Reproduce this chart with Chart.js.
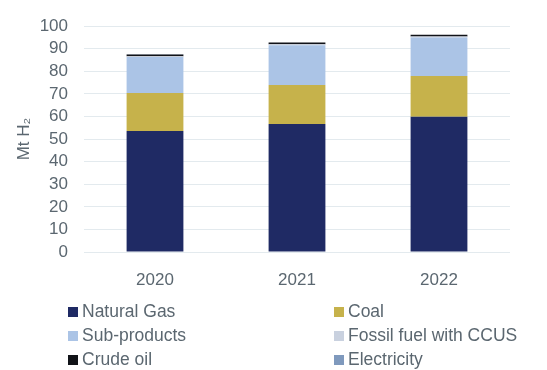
<!DOCTYPE html>
<html>
<head>
<meta charset="utf-8">
<script src="https://cdn.jsdelivr.net/npm/chart.js@4.4.1/dist/chart.umd.min.js"></script>
<style>
  body { margin: 0; background: #fff; }
  #wrap { position: relative; width: 547px; height: 370px; }
  #legend {
    position: absolute; left: 68px; top: 299px;
    display: grid; grid-template-columns: 266px 200px; row-gap: 0;
    font-family: "Liberation Sans", Arial, sans-serif; font-size: 17.5px; color: #5b6770;
  }
  #legend div { height: 24px; line-height: 24px; white-space: nowrap; }
  #legend span.box { display: inline-block; width: 10px; height: 10px; margin-right: 4px; vertical-align: 0px; }
</style>
</head>
<body>
<div id="wrap">
  <canvas id="chart" width="547" height="370"></canvas>
  <div id="legend"></div>
</div>
<script>
var years = ['2020', '2021', '2022'];
var naturalGas = [53.6, 56.7, 59.9];
var coal = [16.8, 17.3, 18.0];
var subProducts = [16.0, 17.6, 17.1];
var fossilCcus = [0.3, 0.4, 0.4];
var crudeOil = [0.8, 0.8, 0.8];
var electricity = [0.03, 0.03, 0.03];

var series = [
    { label: 'Natural Gas', data: naturalGas, color: '#1f2a64' },
    { label: 'Coal', data: coal, color: '#c6b24b' },
    { label: 'Sub-products', data: subProducts, color: '#abc4e6' },
    { label: 'Fossil fuel with CCUS', data: fossilCcus, color: '#c9d1df' },
    { label: 'Crude oil', data: crudeOil, color: '#111318' },
    { label: 'Electricity', data: electricity, color: '#7f99bd' }
];

var textColor = '#5b6770';
var font = { family: '"Liberation Sans", Arial, sans-serif', size: 17 };

var ctx = document.getElementById('chart');
var chart = new Chart(ctx, {
    type: 'bar',
    data: {
        labels: years,
        datasets: series.map(function (s) {
            return {
                label: s.label,
                data: s.data,
                backgroundColor: s.color,
                borderWidth: 0,
                categoryPercentage: 1,
                barPercentage: 0.4
            };
        })
    },
    options: {
        responsive: false,
        animation: false,
        layout: { padding: { left: 14, right: 37, top: 8, bottom: 70 } },
        plugins: {
            legend: { display: false },
            tooltip: { enabled: false }
        },
        scales: {
            x: {
                stacked: true,
                grid: { display: false },
                border: { display: false },
                ticks: { color: textColor, font: font, padding: 10 },
                afterFit: function (axis) { axis.height = 48; }
            },
            y: {
                stacked: true,
                min: 0,
                max: 100,
                grid: { color: '#e3eaee', drawTicks: false },
                border: { display: false },
                ticks: { stepSize: 10, autoSkip: false, color: textColor, font: font, padding: 16 },
                title: { display: true, text: 'Mt H₂', color: textColor, font: { family: font.family, size: 17 }, padding: 0 },
                afterFit: function (axis) { axis.width = 70; }
            }
        }
    }
});

// two-column legend below the plot
var legend = document.getElementById('legend');
series.forEach(function (s) {
    var item = document.createElement('div');
    item.innerHTML = '<span class="box" style="background:' + s.color + '"></span>' + s.label;
    legend.appendChild(item);
});
</script>
</body>
</html>
